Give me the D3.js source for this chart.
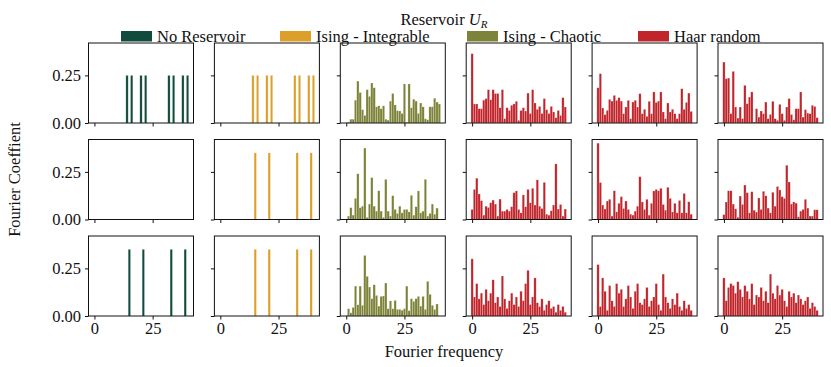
<!DOCTYPE html>
<html>
<head>
<meta charset="utf-8">
<script src="https://cdn.jsdelivr.net/npm/d3@7"></script>
<style>
  body { margin: 0; background: #fff; }
  svg text { font-family: "Liberation Serif", "DejaVu Serif", serif; fill: #111; }
  .tick text { font-size: 16.5px; }
  .tick line { stroke: #111; }
</style>
</head>
<body>
<div id="chart"></div>
<script>
// frequency index on the x axis
var frequencies = [0,1,2,3,4,5,6,7,8,9,10,11,12,13,14,15,16,17,18,19,20,
                   21,22,23,24,25,26,27,28,29,30,31,32,33,34,35,36,37,38,39,40];

var reservoirs = ["No Reservoir", "Ising - Integrable", "Ising - Chaotic", "Haar random"];
var colors = ["#104b3d", "#dca02a", "#7d8338", "#c0252b"];

var xTicks = [0, 25];
var yTicks = [0, 0.25];

// sparse spectra (no reservoir / integrable), given as peaks
var peaksRow1 = [14, 16, 20, 22, 32, 34, 38, 40];
var ampRow1 = 0.25;
var peaksRow23 = [15, 21, 33, 39];
var ampRow23 = 0.35;

// Ising - Chaotic, one per row
var chaotic1 = [0,0.005,0.02,0.02,0.12,0.22,0.16,0.07,0.04,0.175,0.14,0.21,0.185,0.085,0.09,0.075,0.09,0.02,0.015,0.115,
                0.155,0.095,0.065,0.063,0.05,0.205,0.005,0.205,0.08,0.125,0.115,0.05,0.105,0.085,0.022,0.017,0.085,0.085,0.13,0.11,0.1];
var chaotic2 = [0,0.018,0.062,0.023,0.111,0.24,0.062,0.07,0.375,0.011,0.081,0.22,0.07,0.044,0.151,0.044,0.011,0.211,0.044,0.018,
                0.125,0.053,0.032,0.07,0.035,0.053,0.053,0.04,0.127,0.023,0.067,0.15,0.035,0.044,0.211,0.018,0.032,0.081,0.028,0.06,0.0];
var chaotic3 = [0,0.038,0.017,0.045,0.157,0.059,0.157,0.056,0.318,0.208,0.152,0.091,0.164,0.108,0.052,0.103,0.105,0.173,0.038,0.079,
                0.038,0.082,0.035,0.035,0.03,0.038,0.157,0.028,0.091,0.077,0.091,0.103,0.052,0.103,0.035,0.182,0.114,0.056,0.035,0.063,0.0];

// Haar random, three samples per row
var haar11 = [0.364,0.10,0.10,0.075,0.075,0.12,0.128,0.175,0.122,0.175,0.155,0.155,0.08,0.175,0.023,0.08,0.066,0.093,0.10,0.114,
              0.014,0.066,0.08,0.063,0.157,0.05,0.175,0.105,0.072,0.087,0.05,0.128,0.07,0.05,0.087,0.058,0.028,0.066,0.04,0.133,0.084];
var haar12 = [0.185,0.259,0.079,0.044,0.066,0.124,0.115,0.145,0.119,0.133,0.115,0.049,0.084,0.119,0.023,0.11,0.119,0.084,0.154,0.049,
              0.072,0.035,0.114,0.049,0.163,0.108,0.115,0.163,0.058,0.023,0.105,0.058,0.072,0.049,0.023,0.049,0.18,0.072,0.108,0.157,0.061];
var haar13 = [0.32,0.233,0.236,0.049,0.271,0.084,0.026,0.084,0.023,0.198,0.101,0.136,0.163,0.005,0.075,0.031,0.063,0.049,0.11,0.023,
              0.045,0.114,0.023,0.014,0.098,0.049,0.014,0.084,0.128,0.045,0.017,0.075,0.075,0.163,0.031,0.07,0.052,0.049,0.093,0.087,0.028];
var haar21 = [0.053,0.158,0.217,0.134,0.099,0.023,0.07,0.063,0.088,0.102,0.081,0.018,0.107,0.044,0.044,0.053,0.044,0.067,0.141,0.15,
              0.053,0.035,0.129,0.067,0.158,0.088,0.164,0.076,0.208,0.07,0.058,0.195,0.028,0.023,0.046,0.076,0.292,0.055,0.079,0.018,0.055];
var haar22 = [0.401,0.194,0.076,0.055,0.097,0.106,0.018,0.151,0.04,0.085,0.12,0.058,0.097,0.053,0.028,0.023,0.044,0.07,0.225,0.092,
              0.053,0.106,0.023,0.085,0.15,0.158,0.151,0.164,0.079,0.049,0.169,0.111,0.04,0.085,0.035,0.1,0.035,0.137,0.035,0.093,0.028];
var haar23 = [0.026,0.092,0.151,0.151,0.081,0.056,0.012,0.123,0.079,0.181,0.141,0.035,0.146,0.049,0.039,0.113,0.053,0.148,0.125,0.06,
              0.035,0.143,0.07,0.173,0.155,0.12,0.111,0.285,0.197,0.081,0.092,0.086,0.014,0.044,0.053,0.106,0.06,0.018,0.018,0.051,0.051];
var haar31 = [0.30,0.10,0.17,0.09,0.12,0.06,0.14,0.08,0.12,0.19,0.07,0.10,0.05,0.21,0.09,0.04,0.08,0.12,0.06,0.10,
              0.05,0.13,0.08,0.17,0.24,0.06,0.10,0.20,0.07,0.05,0.09,0.03,0.06,0.08,0.04,0.05,0.02,0.06,0.03,0.05,0.02];
var haar32 = [0.27,0.05,0.20,0.13,0.03,0.16,0.08,0.05,0.17,0.12,0.14,0.05,0.09,0.16,0.10,0.04,0.13,0.17,0.07,0.06,
              0.09,0.15,0.05,0.08,0.10,0.17,0.06,0.03,0.22,0.10,0.07,0.04,0.09,0.06,0.12,0.05,0.03,0.08,0.04,0.06,0.03];
var haar33 = [0.20,0.08,0.15,0.17,0.16,0.12,0.18,0.14,0.10,0.16,0.13,0.09,0.17,0.06,0.11,0.10,0.15,0.08,0.13,0.07,
              0.22,0.12,0.09,0.16,0.11,0.14,0.08,0.05,0.13,0.10,0.12,0.07,0.11,0.09,0.06,0.08,0.10,0.04,0.07,0.05,0.03];

// turn a list of peaks into a full spectrum
function fromPeaks(peaks, amp) {
  return frequencies.map(function(f) { return peaks.indexOf(f) >= 0 ? amp : 0; });
}

// grid of panels: [spectrum, reservoir index]
var grid = [
  [[fromPeaks(peaksRow1, ampRow1), 0], [fromPeaks(peaksRow1, ampRow1), 1], [chaotic1, 2], [haar11, 3], [haar12, 3], [haar13, 3]],
  [[fromPeaks([], 0), 0],              [fromPeaks(peaksRow23, ampRow23), 1], [chaotic2, 2], [haar21, 3], [haar22, 3], [haar23, 3]],
  [[fromPeaks(peaksRow23, ampRow23), 0], [fromPeaks(peaksRow23, ampRow23), 1], [chaotic3, 2], [haar31, 3], [haar32, 3], [haar33, 3]]
];

var W = 831, H = 367;
var left0 = 88.5, colStep = 125.9, pw = 105;
var top0 = 43, rowStep = 96.5, ph = 80;

var svg = d3.select("#chart").append("svg")
  .attr("width", W).attr("height", H);

var x = d3.scaleLinear().domain([-2.55, 42.55]).range([0, pw]);
var y = d3.scaleLinear().domain([0, 0.42]).range([ph, 0]);
var bw = x(1) - x(0);

grid.forEach(function(row, r) {
  row.forEach(function(cell, c) {
    var g = svg.append("g")
      .attr("transform", "translate(" + (left0 + c * colStep) + "," + (top0 + r * rowStep) + ")");

    // bars
    g.append("g").selectAll("rect")
      .data(cell[0].map(function(v, i) { return {f: frequencies[i], v: v}; })
                   .filter(function(d) { return d.v > 0; }))
      .enter().append("rect")
        .attr("x", function(d) { return x(d.f) - bw / 2; })
        .attr("width", bw)
        .attr("y", function(d) { return y(d.v); })
        .attr("height", function(d) { return ph - y(d.v); })
        .attr("fill", colors[cell[1]])
        .attr("stroke", "#fff")
        .attr("stroke-opacity", 0.45)
        .attr("stroke-width", 0.5);

    // axes
    var xa = d3.axisBottom(x).tickValues(xTicks).tickSize(3.5).tickPadding(3)
      .tickFormat(r === 2 ? d3.format("d") : "");
    g.append("g").attr("transform", "translate(0," + ph + ")").call(xa)
      .select(".domain").remove();
    var ya = d3.axisLeft(y).tickValues(yTicks).tickSize(3.5).tickPadding(4)
      .tickFormat(c === 0 ? d3.format(".2f") : "");
    g.append("g").call(ya).select(".domain").remove();

    // frame
    g.append("rect")
      .attr("width", pw).attr("height", ph)
      .attr("fill", "none").attr("stroke", "#111").attr("stroke-width", 1);
  });
});

// legend
var legendX = [121, 280, 467, 638];
var lg = svg.append("g");
reservoirs.forEach(function(name, i) {
  lg.append("rect")
    .attr("x", legendX[i]).attr("y", 31)
    .attr("width", 31).attr("height", 10.5)
    .attr("fill", colors[i]);
  lg.append("text")
    .attr("x", legendX[i] + 36).attr("y", 41.5)
    .attr("font-size", 16.5)
    .text(name);
});

var title = svg.append("text")
  .attr("x", 444).attr("y", 25)
  .attr("text-anchor", "middle")
  .attr("font-size", 16.5);
title.append("tspan").text("Reservoir ");
title.append("tspan").attr("font-style", "italic").text("U");
title.append("tspan").attr("font-style", "italic").attr("font-size", 11).attr("dy", 3).text("R");

// axis labels
svg.append("text")
  .attr("x", 444).attr("y", 357)
  .attr("text-anchor", "middle")
  .attr("font-size", 16.5)
  .text("Fourier frequency");

svg.append("text")
  .attr("transform", "translate(20," + (top0 + (2 * rowStep + ph) / 2) + ") rotate(-90)")
  .attr("text-anchor", "middle")
  .attr("font-size", 16.5)
  .text("Fourier Coeffient");
</script>
</body>
</html>
